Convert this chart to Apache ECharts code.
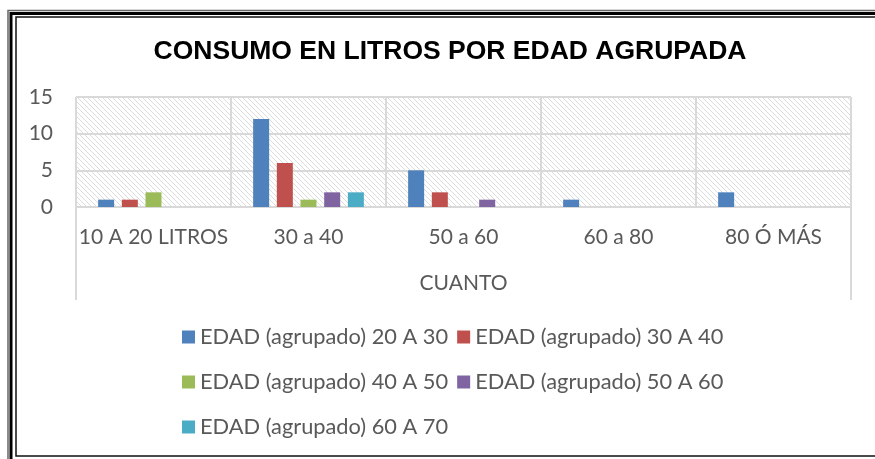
<!DOCTYPE html>
<html>
<head>
<meta charset="utf-8">
<script src="https://cdn.jsdelivr.net/npm/echarts@6/dist/echarts.min.js"></script>
<style>
  html, body { margin: 0; padding: 0; background: #fff; }
  #chart { width: 875px; height: 459px; }
</style>
</head>
<body>
<div id="chart"></div>
<script>
// datos
var categorias = ['10 A 20 LITROS', '30 a 40', '50 a 60', '60 a 80', '80 Ó MÁS']
var edad20a30 = [1, 12, 5, 1, 2]
var edad30a40 = [1, 6, 2, 0, 0]
var edad40a50 = [2, 1, 0, 0, 0]
var edad50a60 = [0, 2, 1, 0, 0]
var edad60a70 = [0, 2, 0, 0, 0]
var ticksY = [0, 5, 10, 15]

var series = [
  { name: 'EDAD (agrupado) 20 A 30', data: edad20a30, color: '#4F81BD' },
  { name: 'EDAD (agrupado) 30 A 40', data: edad30a40, color: '#C0504D' },
  { name: 'EDAD (agrupado) 40 A 50', data: edad40a50, color: '#9BBB59' },
  { name: 'EDAD (agrupado) 50 A 60', data: edad50a60, color: '#8064A2' },
  { name: 'EDAD (agrupado) 60 A 70', data: edad60a70, color: '#4BACC6' }
]

// trama diagonal del fondo
function trama() {
  var n = 5
  var c = document.createElement('canvas')
  c.width = n
  c.height = n
  var ctx = c.getContext('2d')
  ctx.fillStyle = '#fff'
  ctx.fillRect(0, 0, n, n)
  ctx.fillStyle = '#dcdcdc'
  for (var i = 0; i < n; i++) ctx.fillRect(i, i, 1, 1)
  return c
}

var W = 875, H = 459
var G = { left: 76, right: 24, top: 97, bottom: 252 }
var font = 'Lato'
var gris = '#595959'
var linea = '#d9d9d9'

var chart = echarts.init(document.getElementById('chart'))
chart.setOption({
  animation: false,
  title: {
    text: 'CONSUMO EN LITROS POR EDAD AGRUPADA',
    left: 445,
    textAlign: 'center',
    top: 33,
    textStyle: { fontFamily: 'Liberation Sans', fontWeight: 'bold', fontSize: 26.5, color: '#000' }
  },
  grid: {
    left: G.left, right: G.right, top: G.top, bottom: G.bottom,
    show: true,
    backgroundColor: { image: trama(), repeat: 'repeat' },
    borderWidth: 0
  },
  legend: {
    left: 182,
    top: 319,
    width: 570,
    padding: 0,
    itemWidth: 13,
    itemHeight: 13,
    itemGap: 9,
    icon: 'rect',
    textStyle: { fontFamily: font, fontSize: 21.8, color: gris, lineHeight: 36 },
    data: series.map(function (s) { return s.name })
  },
  xAxis: {
    type: 'category',
    data: categorias,
    name: 'CUANTO',
    nameLocation: 'middle',
    nameGap: 66,
    nameTextStyle: { fontFamily: font, fontSize: 21, color: gris },
    axisLine: { lineStyle: { color: linea, width: 2 } },
    axisTick: { show: false },
    axisLabel: { interval: 0, fontFamily: font, fontSize: 21, color: gris, margin: 20 },
    splitLine: { show: true, interval: 0, lineStyle: { color: linea, width: 2 } }
  },
  yAxis: {
    type: 'value',
    min: ticksY[0],
    max: ticksY[ticksY.length - 1],
    interval: 5,
    axisLine: { show: false },
    axisTick: { show: false },
    axisLabel: { fontFamily: font, fontSize: 21, color: gris, margin: 23 },
    splitLine: { lineStyle: { color: linea, width: 2 } }
  },
  series: series.map(function (s) {
    return {
      name: s.name,
      type: 'bar',
      data: s.data,
      barWidth: 16,
      barGap: '48%',
      itemStyle: { color: s.color }
    }
  }),
  graphic: [
    // lineas laterales bajo el eje
    { type: 'line', shape: { x1: G.left, y1: H - G.bottom, x2: G.left, y2: 300 }, style: { stroke: linea, lineWidth: 2 } },
    { type: 'line', shape: { x1: W - G.right, y1: H - G.bottom, x2: W - G.right, y2: 300 }, style: { stroke: linea, lineWidth: 2 } },
    // marco triple
    { type: 'rect', shape: { x: 8, y: 10.5, width: 900, height: 460 }, style: { fill: null, stroke: '#666', lineWidth: 1.5 } },
    { type: 'rect', shape: { x: 11, y: 13.5, width: 900, height: 460 }, style: { fill: null, stroke: '#000', lineWidth: 3 } },
    { type: 'rect', shape: { x: 16, y: 17, width: 900, height: 439 }, style: { fill: null, stroke: '#111', lineWidth: 1.5 } }
  ]
})
</script>
</body>
</html>
